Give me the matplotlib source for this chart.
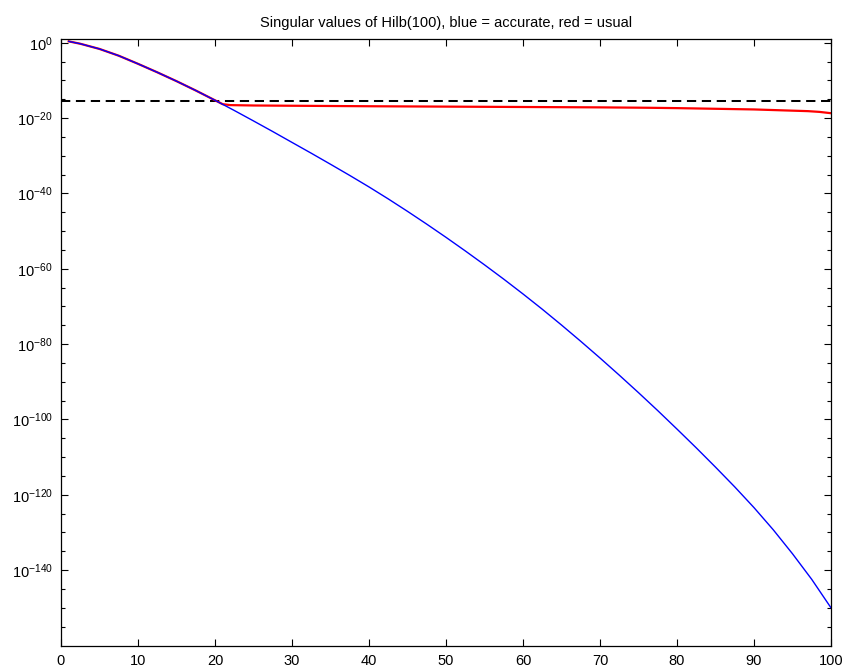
import numpy as np
import matplotlib
matplotlib.use("Agg")
import matplotlib.pyplot as plt
from matplotlib.ticker import FixedLocator, LogFormatterMathtext, NullFormatter

plt.rcParams.update({
    "font.family": ["Liberation Sans", "DejaVu Sans"],
    "mathtext.fontset": "custom",
    "mathtext.rm": "Liberation Sans",
    "mathtext.it": "Liberation Sans:italic",
    "mathtext.bf": "Liberation Sans:bold",
    "font.size": 10.5,
})

# ── values (log10 of the singular values) ──
k_accurate = [1, 2.5, 5, 7.5, 10, 12.5, 15, 17.5, 20, 22.5, 25, 27.5, 30,
              32.5, 35, 37.5, 40, 42.5, 45, 47.5, 50, 52.5, 55, 57.5, 60,
              62.5, 65, 67.5, 70, 72.5, 75, 77.5, 80, 82.5, 85, 87.5, 90,
              92.5, 95, 97.5, 100]
log_accurate = [0.37, -0.26, -1.64, -3.44, -5.59, -7.84, -10.19, -12.67,
                -15.27, -17.97, -20.75, -23.57, -26.45, -29.32, -32.25,
                -35.22, -38.27, -41.45, -44.75, -48.15, -51.65, -55.25,
                -58.95, -62.75, -66.68, -70.73, -74.93, -79.25, -83.68,
                -88.23, -92.88, -97.65, -102.55, -107.53, -112.65, -117.9,
                -123.4, -129.28, -135.65, -142.45, -150.0]

k_usual = [1, 2.5, 5, 7.5, 10, 12.5, 15, 17.5, 20, 21, 22, 25, 30, 40, 50,
           60, 70, 76, 80, 90, 94, 97, 98.5, 100]
log_usual = [0.37, -0.26, -1.64, -3.44, -5.59, -7.84, -10.19, -12.67,
             -15.27, -16.3, -16.55, -16.65, -16.72, -16.85, -16.95, -17.05,
             -17.15, -17.25, -17.35, -17.7, -17.96, -18.15, -18.35, -18.7]

eps_level = 4.0e-16   # dashed reference line
x_range = [0, 100]

sigma_accurate = np.power(10.0, log_accurate)
sigma_usual = np.power(10.0, log_usual)

fig = plt.figure(figsize=(8.45, 6.68), dpi=100)
ax = fig.add_axes([61 / 845, 1 - 645.5 / 668, (831 - 61) / 845, (645.5 - 39) / 668])

ax.semilogy(x_range, [eps_level, eps_level], color="black", lw=1.45,
            dashes=(4.6, 2.8))
ax.semilogy(k_usual, sigma_usual, color="red", lw=1.6)
ax.semilogy(k_accurate, sigma_accurate, color="blue", lw=1.0)

ax.set_xlim(0, 100)
ax.set_ylim(1e-160, 1e1)
ax.set_xticks(np.arange(0, 101, 10))

ax.yaxis.set_major_locator(FixedLocator([10.0 ** e for e in range(-140, 1, 20)]))
ax.yaxis.set_minor_locator(FixedLocator(
    [10.0 ** e for e in range(-160, 2, 5) if e % 20 != 0]))
ax.yaxis.set_major_formatter(LogFormatterMathtext())
ax.yaxis.set_minor_formatter(NullFormatter())

ax.tick_params(which="both", direction="in", top=True, right=True, width=0.8)
ax.tick_params(which="major", length=5, pad=6, labelsize=10.5)
ax.tick_params(which="minor", length=3)
for sp in ax.spines.values():
    sp.set_linewidth(0.9)

ax.set_title("Singular values of Hilb(100), blue = accurate, red = usual",
             fontsize=10.5, pad=9)

fig.savefig("out.png", dpi=100)
